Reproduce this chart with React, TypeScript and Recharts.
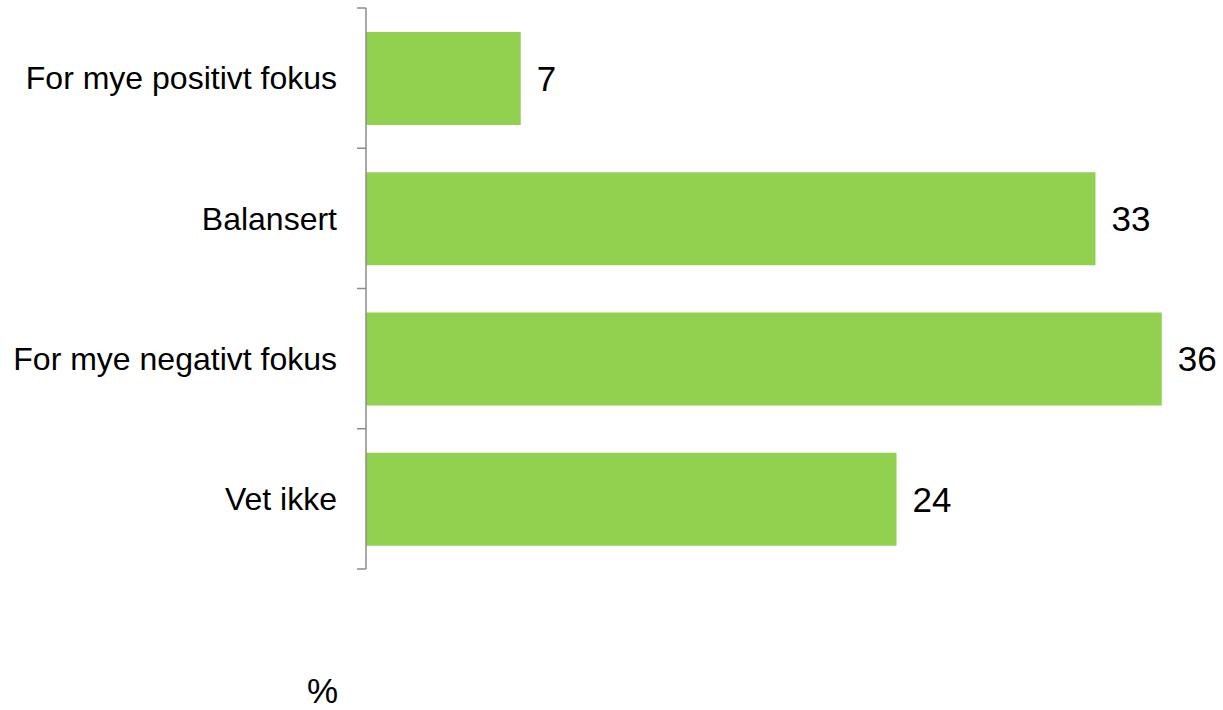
import { BarChart, Bar, XAxis, YAxis, LabelList } from "recharts";

const categories = ["For mye positivt fokus", "Balansert", "For mye negativt fokus", "Vet ikke"];
const shares = [7, 33, 36, 24];

const data = categories.map((name, i) => ({ name, value: shares[i] }));

// the edge axis spans the row indexes 0..n-1, so band edges fall at steps of (n-1)/n
const lastIndex = categories.length - 1;
const bandEdges = categories.map((_, i) => (i * lastIndex) / categories.length).concat(lastIndex);

const FONT = "'Liberation Sans', Arial, sans-serif";

const NoLabel = () => <g />;

export default function App() {
  return (
    <div style={{ position: "absolute", left: 0, top: 0, width: 1223, height: 710, fontFamily: FONT }}>
      <BarChart
        width={1223}
        height={710}
        data={data}
        layout="vertical"
        margin={{ top: 8, right: 17, bottom: 141, left: 0 }}
      >
        <XAxis type="number" domain={[0, 38]} hide />
        {/* tick marks sit on the band edges, so they come from a second numeric axis */}
        <YAxis
          yAxisId="a_edges"
          type="number"
          domain={[0, lastIndex]}
          allowDataOverflow
          ticks={bandEdges}
          interval={0}
          width={9}
          tickSize={9}
          tick={<NoLabel />}
          axisLine={{ stroke: "#8c8c8c", strokeWidth: 1.5 }}
          tickLine={{ stroke: "#8c8c8c", strokeWidth: 1.5 }}
        />
        <YAxis
          yAxisId="b_cat"
          type="category"
          dataKey="name"
          width={357}
          axisLine={false}
          tickLine={false}
          tickSize={6}
          tickMargin={14}
          tick={{ fill: "#000", fontSize: 32, fontFamily: FONT }}
        />
        <Bar yAxisId="b_cat" dataKey="value" fill="#92D050" barSize={93} isAnimationActive={false}>
          <LabelList dataKey="value" position="right" offset={16} fill="#000" fontSize={35} fontFamily={FONT} />
        </Bar>
      </BarChart>
      <div style={{ position: "absolute", left: 298, top: 671, width: 40, textAlign: "right", fontSize: 35, color: "#000", fontFamily: FONT }}>%</div>
    </div>
  );
}
